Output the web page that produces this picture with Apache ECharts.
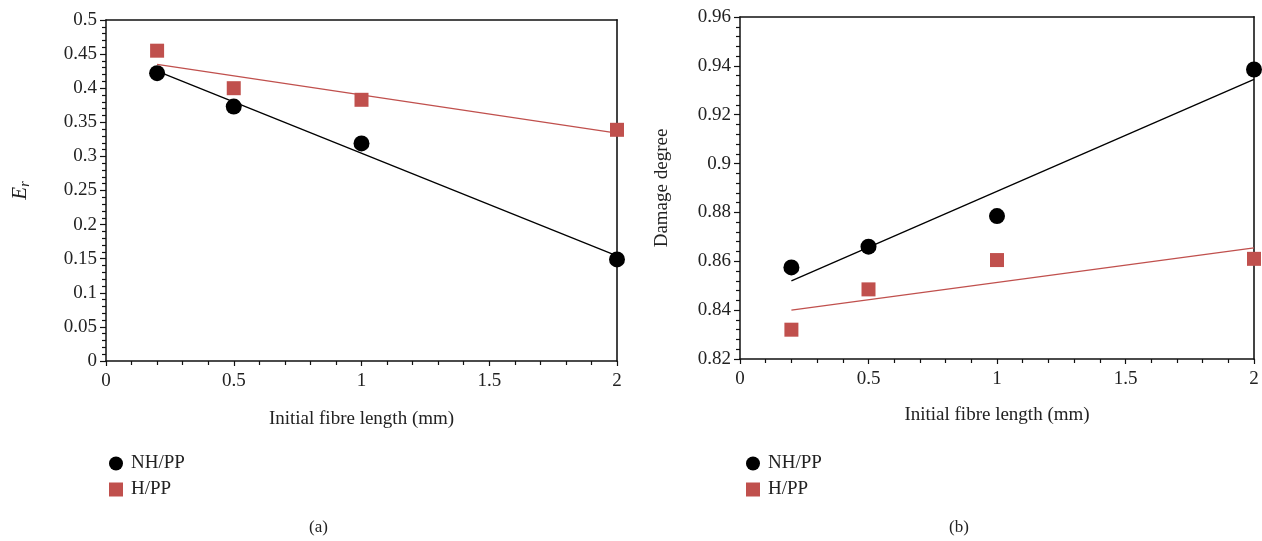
<!DOCTYPE html>
<html>
<head>
<meta charset="utf-8">
<script src="https://cdn.jsdelivr.net/npm/echarts@6/dist/echarts.min.js"></script>
<style>
html,body{margin:0;padding:0;background:#fff;}
#c{width:1262px;height:541px;}
</style>
</head>
<body>
<div id="c"></div>
<script>
// Data
const fibreLength = [0.2, 0.5, 1, 2];
const xTicks = [0, 0.5, 1, 1.5, 2];
// (a) E_r
const erNH = [0.422, 0.373, 0.319, 0.149];
const erH = [0.455, 0.400, 0.383, 0.339];
const erNHFitX = [0.2, 2];
const erNHFit = [0.425, 0.154];
const erHFitX = [0.2, 2];
const erHFit = [0.435, 0.334];
// (b) Damage degree
const ddNH = [0.8575, 0.866, 0.8785, 0.9385];
const ddH = [0.832, 0.8485, 0.8605, 0.861];
const ddNHFitX = [0.2, 2];
const ddNHFit = [0.852, 0.9345];
const ddHFitX = [0.2, 2];
const ddHFit = [0.840, 0.8655];

const seriesNames = ['NH/PP', 'H/PP'];
const captions = ['(a)', '(b)'];

const FONT = 'Liberation Serif';
const RED = '#c0504d';
const pairs = (xs, ys) => xs.map((x, i) => [x, ys[i]]);

const chart = echarts.init(document.getElementById('c'));

function xAxis(gi) {
  return {
    type: 'value', gridIndex: gi, min: 0, max: 2, interval: 0.5,
    name: 'Initial fibre length (mm)', nameLocation: 'middle', nameGap: gi === 0 ? 49 : 47,
    nameTextStyle: {fontFamily: FONT, fontSize: 19, color: '#222'},
    axisLine: {show: true, onZero: false, lineStyle: {color: '#111', width: 1.5}},
    axisTick: {show: true, inside: false, length: 5, lineStyle: {color: '#111', width: 1.2}},
    minorTick: {show: true, splitNumber: 5, length: 4, lineStyle: {color: '#111', width: 1.2}},
    axisLabel: {fontFamily: FONT, fontSize: 19, color: '#222', margin: 11},
    splitLine: {show: false}
  };
}
function topAxis(gi) {
  return {
    type: 'value', gridIndex: gi, position: 'top', min: 0, max: 2,
    axisLine: {show: true, onZero: false, lineStyle: {color: '#111', width: 1.5}},
    axisTick: {show: false}, axisLabel: {show: false}, splitLine: {show: false}
  };
}

const option = {
  animation: false,
  backgroundColor: '#fff',
  grid: [
    {left: 106, top: 20, width: 511, height: 341, show: false},
    {left: 740, top: 17, width: 514, height: 342, show: false}
  ],
  xAxis: [xAxis(0), xAxis(1), topAxis(0), topAxis(1)],
  yAxis: [
    {
      type: 'value', gridIndex: 0, min: 0, max: 0.5, interval: 0.05,
      name: '{e|E}{r|r}', nameLocation: 'middle', nameGap: 74, nameRotate: 90,
      nameTextStyle: {
        fontFamily: FONT, color: '#222',
        rich: {
          e: {fontFamily: FONT, fontStyle: 'italic', fontSize: 21, color: '#222'},
          r: {fontFamily: FONT, fontStyle: 'italic', fontSize: 14, color: '#222', verticalAlign: 'bottom', padding: [9, 0, 0, 0]}
        }
      },
      axisLine: {show: true, onZero: false, lineStyle: {color: '#111', width: 1.5}},
      axisTick: {show: true, length: 6, lineStyle: {color: '#111', width: 1.2}},
      minorTick: {show: true, splitNumber: 5, length: 4, lineStyle: {color: '#111', width: 1.2}},
      axisLabel: {fontFamily: FONT, fontSize: 19, color: '#222', margin: 9,
        formatter: v => String(Math.round(v * 100) / 100)},
      splitLine: {show: false}
    },
    {
      type: 'value', gridIndex: 1, min: 0.82, max: 0.96, interval: 0.02,
      name: 'Damage degree', nameLocation: 'middle', nameGap: 68,
      nameTextStyle: {fontFamily: FONT, fontSize: 19, color: '#222'},
      axisLine: {show: true, onZero: false, lineStyle: {color: '#111', width: 1.5}},
      axisTick: {show: true, length: 6, lineStyle: {color: '#111', width: 1.2}},
      minorTick: {show: true, splitNumber: 5, length: 4, lineStyle: {color: '#111', width: 1.2}},
      axisLabel: {fontFamily: FONT, fontSize: 19, color: '#222', margin: 9,
        formatter: v => String(Math.round(v * 100) / 100)},
      splitLine: {show: false}
    },
    {
      type: 'value', gridIndex: 0, position: 'right', min: 0, max: 0.5,
      axisLine: {show: true, onZero: false, lineStyle: {color: '#444', width: 2}},
      axisTick: {show: false}, axisLabel: {show: false}, splitLine: {show: false}
    },
    {
      type: 'value', gridIndex: 1, position: 'right', min: 0.82, max: 0.96,
      axisLine: {show: true, onZero: false, lineStyle: {color: '#444', width: 2}},
      axisTick: {show: false}, axisLabel: {show: false}, splitLine: {show: false}
    }
  ],
  legend: [
    {
      left: 104, top: 449, orient: 'vertical', itemGap: 7, itemWidth: 14, itemHeight: 14,
      textStyle: {fontFamily: FONT, fontSize: 19, color: '#222', padding: [0, 0, 0, 3]},
      data: [{name: seriesNames[0], icon: 'circle'}, {name: seriesNames[1], icon: 'rect'}]
    },
    {
      left: 741, top: 449, orient: 'vertical', itemGap: 7, itemWidth: 14, itemHeight: 14,
      textStyle: {fontFamily: FONT, fontSize: 19, color: '#222', padding: [0, 0, 0, 3]},
      data: [{name: seriesNames[0], icon: 'circle'}, {name: seriesNames[1], icon: 'rect'}]
    }
  ],
  graphic: [
    {type: 'text', left: 309, top: 519, style: {text: captions[0], font: '17px "Liberation Serif"', fill: '#222'}},
    {type: 'text', left: 949, top: 519, style: {text: captions[1], font: '17px "Liberation Serif"', fill: '#222'}}
  ],
  series: [
    {name: 'NH/PP fit a', type: 'line', xAxisIndex: 0, yAxisIndex: 0, data: pairs(erNHFitX, erNHFit),
      symbol: 'none', lineStyle: {color: '#000', width: 1.3}, z: 2},
    {name: 'H/PP fit a', type: 'line', xAxisIndex: 0, yAxisIndex: 0, data: pairs(erHFitX, erHFit),
      symbol: 'none', lineStyle: {color: RED, width: 1.3}, z: 2},
    {name: seriesNames[1], type: 'scatter', xAxisIndex: 0, yAxisIndex: 0, data: pairs(fibreLength, erH),
      symbol: 'rect', symbolSize: 14, itemStyle: {color: RED, opacity: 1}, z: 3},
    {name: seriesNames[0], type: 'scatter', xAxisIndex: 0, yAxisIndex: 0, data: pairs(fibreLength, erNH),
      symbol: 'circle', symbolSize: 16, itemStyle: {color: '#000', opacity: 1}, z: 4},

    {name: 'NH/PP fit b', type: 'line', xAxisIndex: 1, yAxisIndex: 1, data: pairs(ddNHFitX, ddNHFit),
      symbol: 'none', lineStyle: {color: '#000', width: 1.3}, z: 2},
    {name: 'H/PP fit b', type: 'line', xAxisIndex: 1, yAxisIndex: 1, data: pairs(ddHFitX, ddHFit),
      symbol: 'none', lineStyle: {color: RED, width: 1.3}, z: 2},
    {name: seriesNames[1], type: 'scatter', xAxisIndex: 1, yAxisIndex: 1, data: pairs(fibreLength, ddH),
      symbol: 'rect', symbolSize: 14, itemStyle: {color: RED, opacity: 1}, z: 3},
    {name: seriesNames[0], type: 'scatter', xAxisIndex: 1, yAxisIndex: 1, data: pairs(fibreLength, ddNH),
      symbol: 'circle', symbolSize: 16, itemStyle: {color: '#000', opacity: 1}, z: 4}
  ]
};
chart.setOption(option);
</script>
</body>
</html>
